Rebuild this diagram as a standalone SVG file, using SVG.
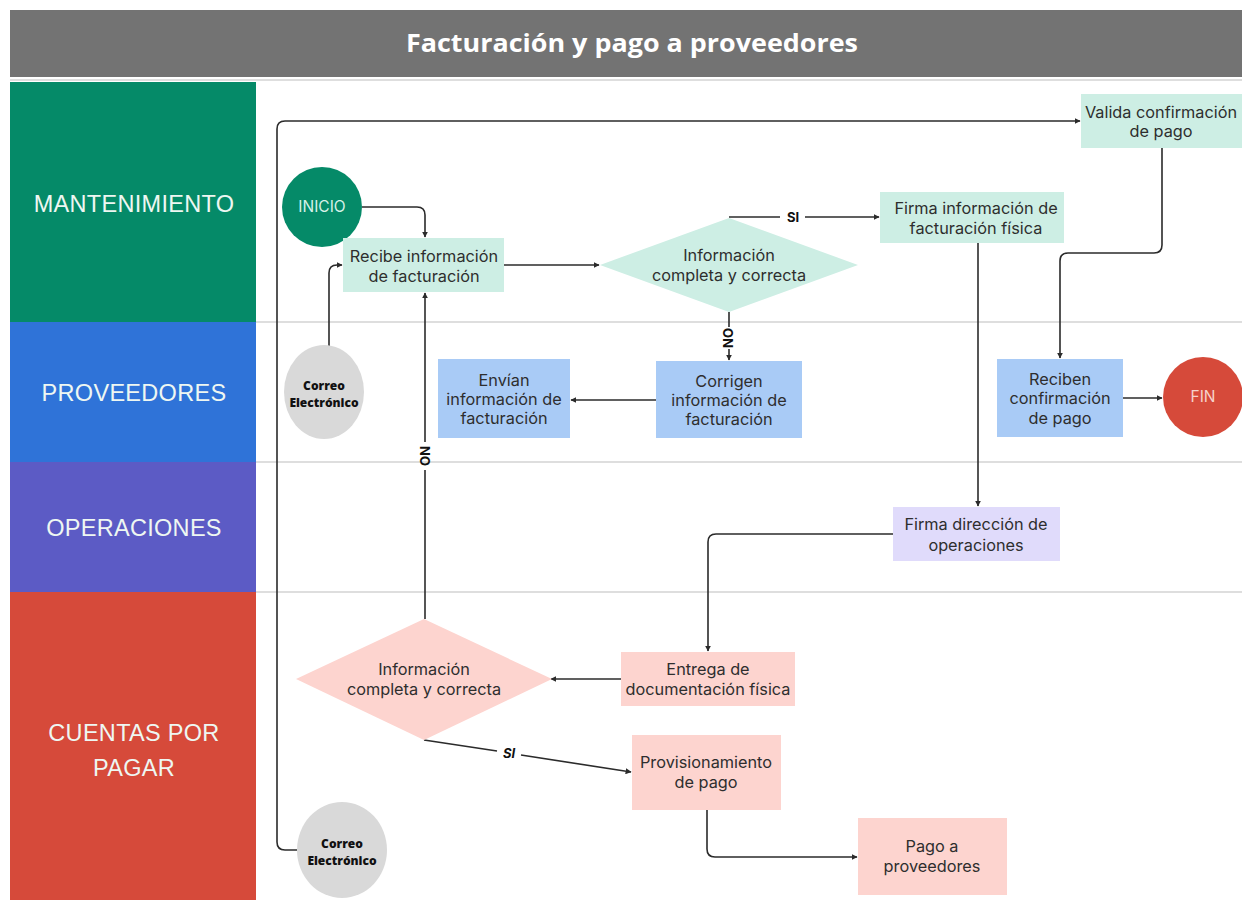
<svg xmlns="http://www.w3.org/2000/svg" width="1242" height="900" viewBox="0 0 1242 900">
<defs>
<marker id="arr" viewBox="0 0 10 10" refX="9" refY="5" markerWidth="6" markerHeight="6" orient="auto" markerUnits="userSpaceOnUse">
<path d="M0,0 L10,5 L0,10 z" fill="#2b2b2b"/>
</marker>
<style>
.lane{font-family:"Liberation Sans",Arial,sans-serif;font-size:23.5px;fill:#eef7f2;text-anchor:middle;letter-spacing:0.3px}
.t{font-family:Inter,"Liberation Sans",sans-serif;font-size:16.3px;fill:#2e2e2e;text-anchor:middle}
.mail{font-family:"Open Sans","Liberation Sans",sans-serif;font-size:12px;font-weight:800;fill:#111;text-anchor:middle}
.c{fill:none;stroke:#2b2b2b;stroke-width:1.6}
.ca{fill:none;stroke:#2b2b2b;stroke-width:1.6;marker-end:url(#arr)}
.lbl{font-family:Inter,"Liberation Sans",sans-serif;font-size:13px;font-weight:700;fill:#111;text-anchor:middle}
.sep{stroke:#bdbdbd;stroke-width:1.2}
.mint{fill:#cdeee4}
.blue{fill:#a9cbf6}
.lav{fill:#e0dbfb}
.pink{fill:#fdd4cf}
</style>
</defs>
<rect width="1242" height="900" fill="#ffffff"/>
<g id="title">
<rect x="10" y="10" width="1232" height="67" fill="#737373"/>
<line x1="10" y1="80" x2="1242" y2="80" class="sep"/>
<text x="632" y="52" font-family="'Open Sans','Liberation Sans',sans-serif" font-size="25" font-weight="700" fill="#ffffff" text-anchor="middle" textLength="452" lengthAdjust="spacingAndGlyphs">Facturación y pago a proveedores</text>
</g>
<g id="lanes">
<rect x="10" y="82" width="246" height="240" fill="#058a68"/>
<rect x="10" y="322" width="246" height="140" fill="#2f73d8"/>
<rect x="10" y="462" width="246" height="130" fill="#5c5bc5"/>
<rect x="10" y="592" width="246" height="308" fill="#d64a3a"/>
<text x="134" y="212" class="lane">MANTENIMIENTO</text>
<text x="134" y="401" class="lane">PROVEEDORES</text>
<text x="134" y="536" class="lane">OPERACIONES</text>
<text x="134" y="741" class="lane">CUENTAS POR</text>
<text x="134" y="776" class="lane">PAGAR</text>
<line x1="256" y1="322" x2="1242" y2="322" class="sep"/>
<line x1="256" y1="462" x2="1242" y2="462" class="sep"/>
<line x1="256" y1="592" x2="1242" y2="592" class="sep"/>
</g>
<g id="connectors">
<path class="ca" d="M362,207 H417 Q425,207 425,215 V237"/>
<path class="ca" d="M329,346 V273 Q329,265 337,265 H342"/>
<path class="ca" d="M504,265 H599"/>
<path class="c" d="M729,217 H780"/>
<path class="ca" d="M805,217 H879"/>
<text x="793" y="222" class="lbl">SI</text>
<path class="c" d="M729,312 V327"/>
<path class="ca" d="M729,349 V360"/>
<text x="0" y="0" class="lbl" transform="translate(733,338) rotate(-90)">NO</text>
<path class="ca" d="M656,400 H571"/>
<path class="c" d="M425,619 V470"/>
<path class="ca" d="M425,442 V293"/>
<text x="0" y="0" class="lbl" transform="translate(420,456) rotate(90)">NO</text>
<path class="ca" d="M978,243 V506"/>
<path class="ca" d="M1162,148 V245 Q1162,253 1154,253 H1068 Q1060,253 1060,261 V358"/>
<path class="ca" d="M1123,398 H1162"/>
<path class="ca" d="M893,534 H716 Q708,534 708,542 V651"/>
<path class="ca" d="M621,679 H551"/>
<path class="c" d="M424,740 L497,751"/>
<path class="ca" d="M521,755 L631,772"/>
<text x="509" y="758" class="lbl" font-style="italic">SI</text>
<path class="ca" d="M707,810 V849 Q707,857 715,857 H857"/>
<path class="ca" d="M297,850 H285 Q277,850 277,842 V129 Q277,121 285,121 H1080"/>
</g>
<g id="inicio">
<circle cx="322" cy="207" r="40" fill="#058a68"/>
<text x="322" y="212" font-family="Inter,'Liberation Sans',sans-serif" font-size="15.5" fill="#d6f2e8" text-anchor="middle">INICIO</text>
</g>
<g id="recibe">
<rect x="343" y="238" width="161" height="54" class="mint"/>
<text x="424" y="262" class="t">Recibe información</text>
<text x="424" y="282" class="t">de facturación</text>
</g>
<g id="decision1">
<polygon points="600,265 729,218 858,265 729,312" class="mint"/>
<text x="729" y="261" class="t">Información</text>
<text x="729" y="281" class="t">completa y correcta</text>
</g>
<g id="firma-fisica">
<rect x="880" y="192" width="184" height="51" class="mint"/>
<text x="976" y="214" class="t">Firma información de</text>
<text x="976" y="234" class="t">facturación física</text>
</g>
<g id="valida">
<rect x="1081" y="94" width="161" height="54" class="mint"/>
<text x="1161" y="118" class="t">Valida confirmación</text>
<text x="1161" y="137" class="t">de pago</text>
</g>
<g id="correo1">
<ellipse cx="324" cy="392" rx="40" ry="47" fill="#d9d9d9"/>
<text x="324" y="390" class="mail">Correo</text>
<text x="324" y="407" class="mail">Electrónico</text>
</g>
<g id="envian">
<rect x="438" y="359" width="132" height="79" class="blue"/>
<text x="504" y="386" class="t">Envían</text>
<text x="504" y="405" class="t">información de</text>
<text x="504" y="424" class="t">facturación</text>
</g>
<g id="corrigen">
<rect x="656" y="361" width="146" height="77" class="blue"/>
<text x="729" y="387" class="t">Corrigen</text>
<text x="729" y="406" class="t">información de</text>
<text x="729" y="425" class="t">facturación</text>
</g>
<g id="reciben">
<rect x="997" y="359" width="126" height="78" class="blue"/>
<text x="1060" y="385" class="t">Reciben</text>
<text x="1060" y="404" class="t">confirmación</text>
<text x="1060" y="424" class="t">de pago</text>
</g>
<g id="fin">
<circle cx="1203" cy="397" r="40" fill="#d64a3a"/>
<text x="1203" y="402" font-family="Inter,'Liberation Sans',sans-serif" font-size="15.5" fill="#f6d3cc" text-anchor="middle">FIN</text>
</g>
<g id="firma-direccion">
<rect x="893" y="507" width="167" height="54" class="lav"/>
<text x="976" y="530" class="t">Firma dirección de</text>
<text x="976" y="551" class="t">operaciones</text>
</g>
<g id="entrega">
<rect x="621" y="652" width="174" height="54" class="pink"/>
<text x="708" y="675" class="t">Entrega de</text>
<text x="708" y="695" class="t">documentación física</text>
</g>
<g id="decision2">
<polygon points="296,679 424,619 552,679 424,740" class="pink"/>
<text x="424" y="675" class="t">Información</text>
<text x="424" y="695" class="t">completa y correcta</text>
</g>
<g id="provisionamiento">
<rect x="632" y="735" width="149" height="75" class="pink"/>
<text x="706" y="768" class="t">Provisionamiento</text>
<text x="706" y="788" class="t">de pago</text>
</g>
<g id="pago">
<rect x="858" y="818" width="149" height="77" class="pink"/>
<text x="932" y="852" class="t">Pago a</text>
<text x="932" y="872" class="t">proveedores</text>
</g>
<g id="correo2">
<ellipse cx="342" cy="850" rx="45" ry="48" fill="#d9d9d9"/>
<text x="342" y="848" class="mail">Correo</text>
<text x="342" y="865" class="mail">Electrónico</text>
</g>
</svg>
